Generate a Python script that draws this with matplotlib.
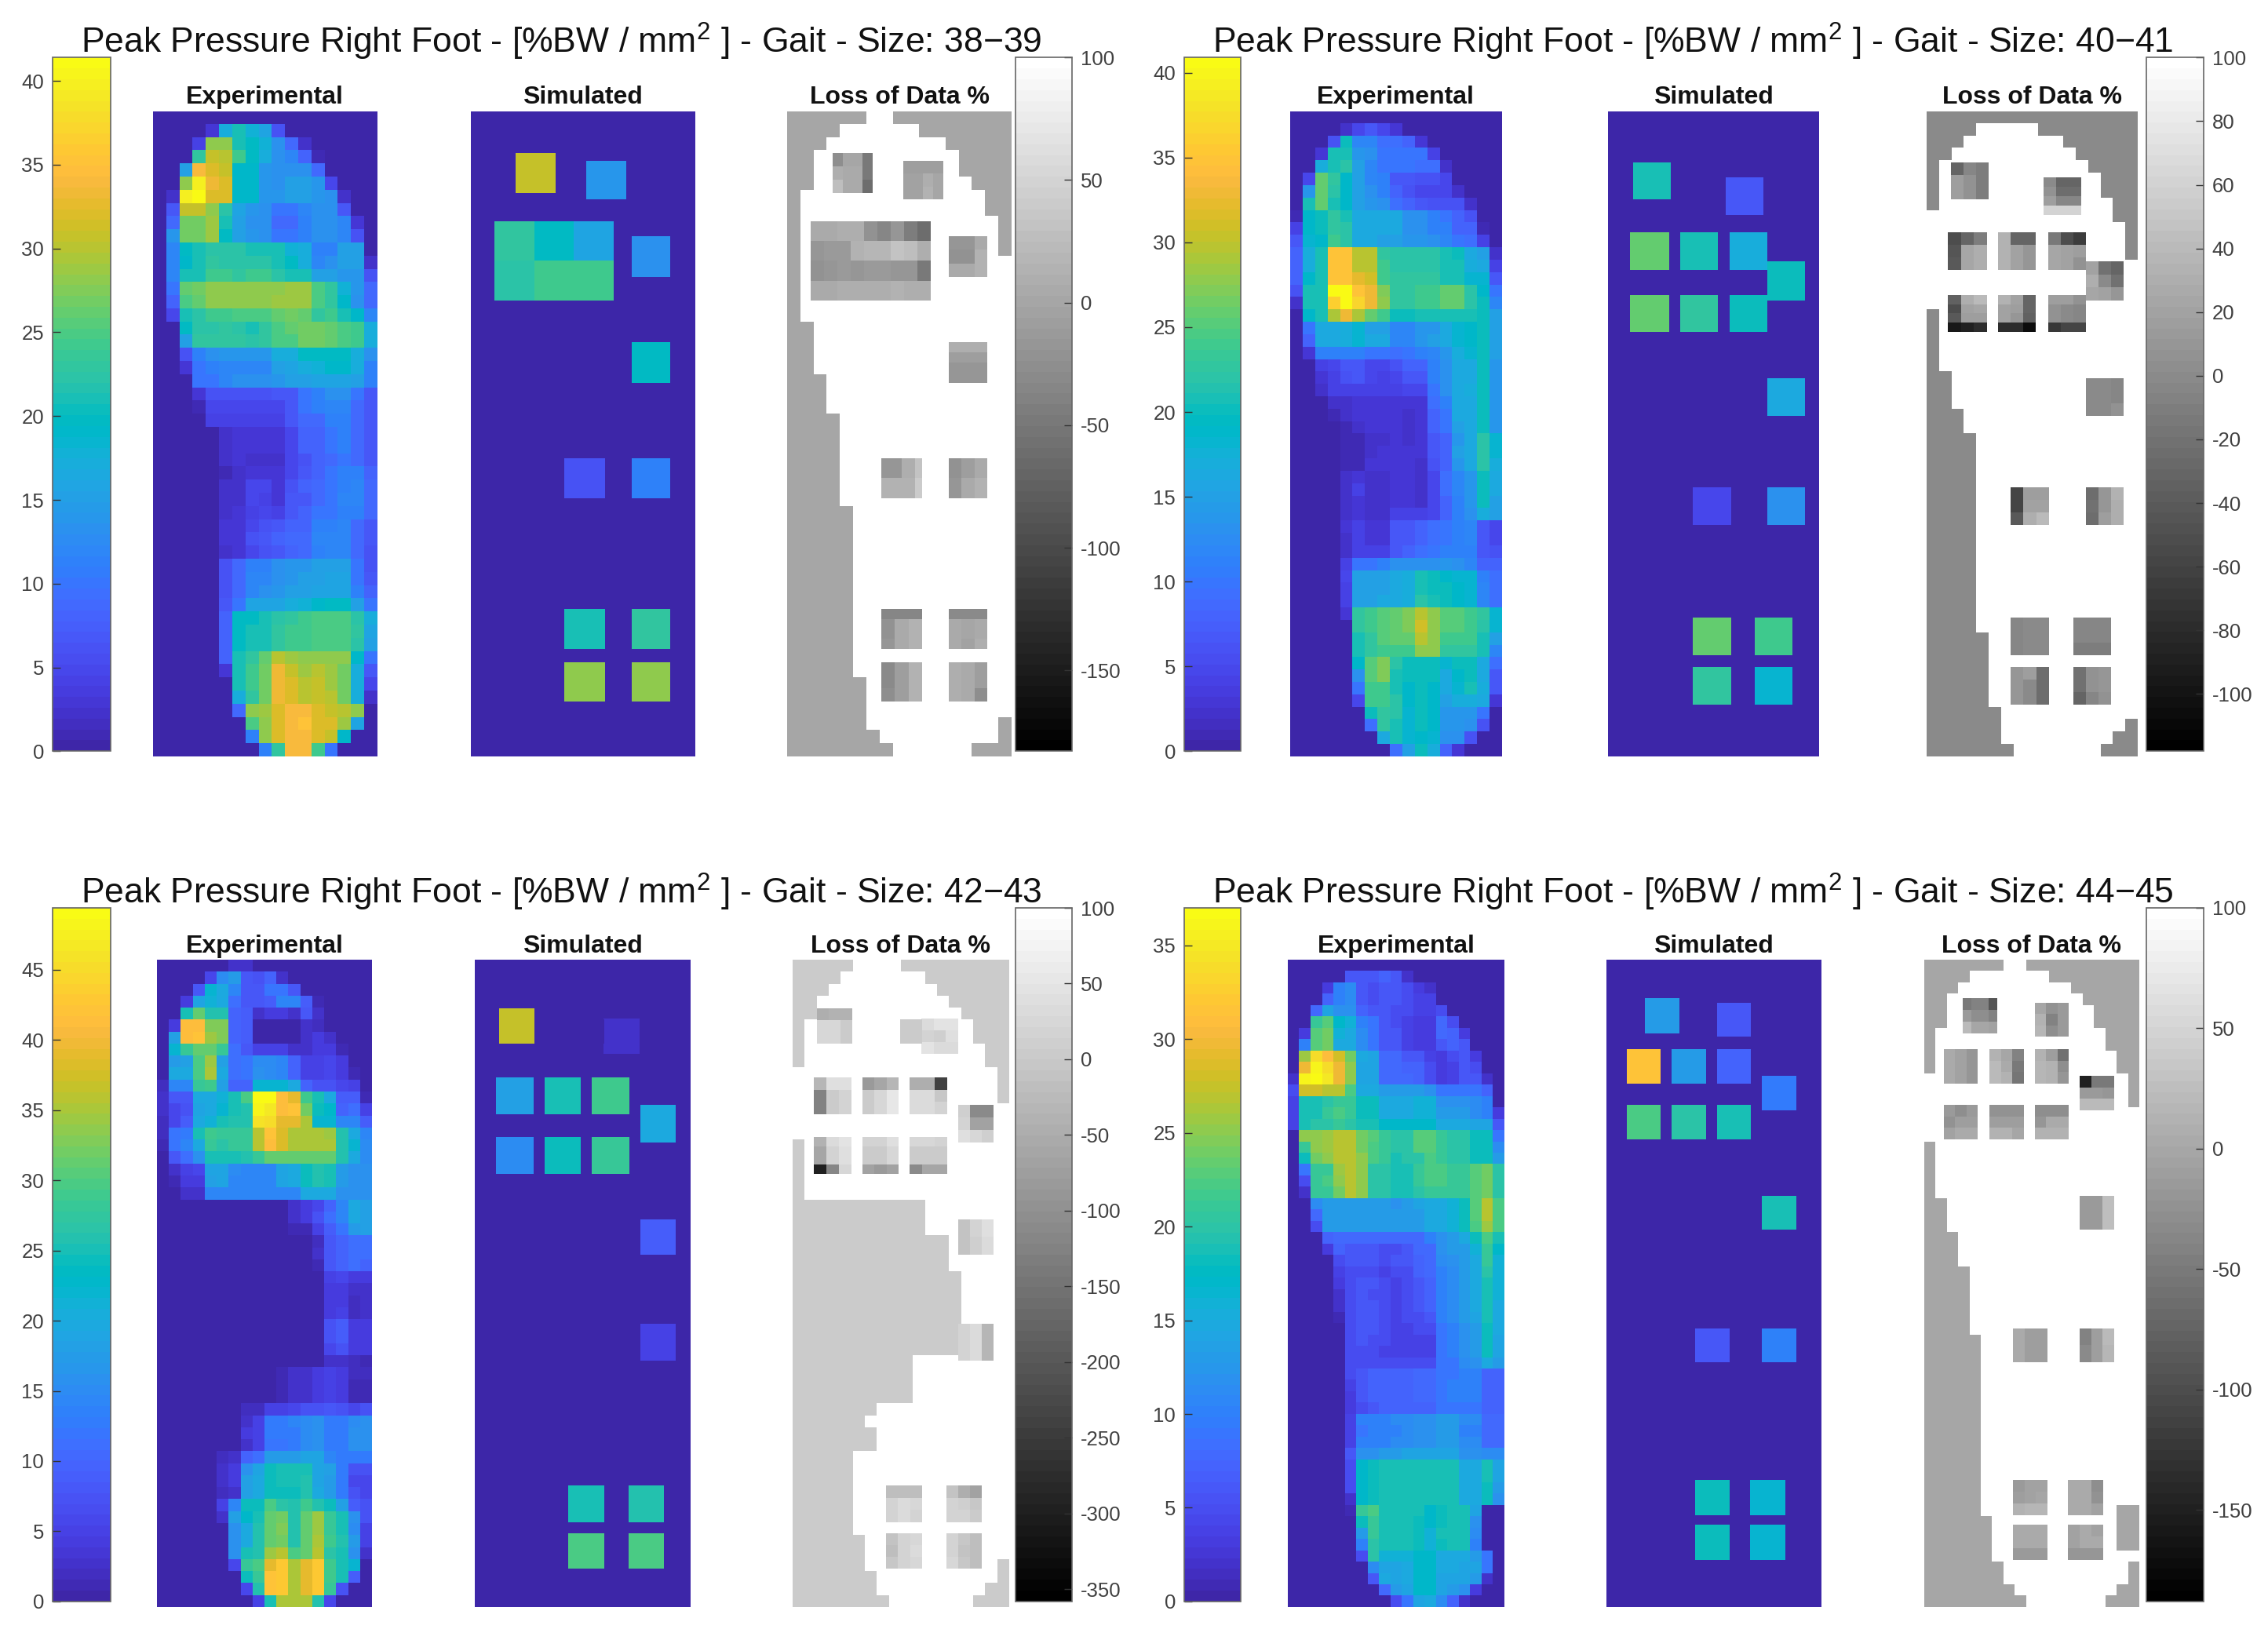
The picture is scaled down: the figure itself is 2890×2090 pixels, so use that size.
import matplotlib
matplotlib.use("Agg")
import matplotlib.pyplot as plt
import numpy as np
from matplotlib.cm import ScalarMappable
from matplotlib.colors import ListedColormap, Normalize

plt.rcParams['font.family'] = ['Liberation Sans', 'DejaVu Sans']
plt.rcParams['mathtext.fontset'] = 'custom'
plt.rcParams['mathtext.rm'] = 'Liberation Sans'
plt.rcParams['axes.unicode_minus'] = False

W, H = 2890, 2090

# MATLAB parula, 64 levels
parula = ListedColormap([
    [0.2422, 0.1504, 0.6603], [0.2504, 0.1650, 0.7076], [0.2578, 0.1818, 0.7511], [0.2647, 0.1978, 0.7952],
    [0.2706, 0.2147, 0.8364], [0.2751, 0.2342, 0.8710], [0.2783, 0.2559, 0.8991], [0.2803, 0.2782, 0.9221],
    [0.2813, 0.3006, 0.9414], [0.2810, 0.3228, 0.9579], [0.2795, 0.3447, 0.9717], [0.2760, 0.3667, 0.9829],
    [0.2699, 0.3892, 0.9906], [0.2602, 0.4123, 0.9952], [0.2440, 0.4358, 0.9988], [0.2206, 0.4603, 0.9973],
    [0.1963, 0.4847, 0.9892], [0.1834, 0.5074, 0.9798], [0.1786, 0.5289, 0.9682], [0.1764, 0.5499, 0.9520],
    [0.1687, 0.5703, 0.9359], [0.1540, 0.5902, 0.9218], [0.1460, 0.6091, 0.9079], [0.1380, 0.6276, 0.8973],
    [0.1248, 0.6459, 0.8883], [0.1113, 0.6635, 0.8763], [0.0952, 0.6798, 0.8598], [0.0689, 0.6948, 0.8394],
    [0.0297, 0.7082, 0.8163], [0.0036, 0.7203, 0.7917], [0.0067, 0.7312, 0.7660], [0.0433, 0.7411, 0.7394],
    [0.0964, 0.7500, 0.7120], [0.1408, 0.7584, 0.6842], [0.1717, 0.7670, 0.6554], [0.1938, 0.7758, 0.6251],
    [0.2161, 0.7843, 0.5923], [0.2470, 0.7918, 0.5567], [0.2906, 0.7973, 0.5188], [0.3406, 0.8008, 0.4789],
    [0.3909, 0.8029, 0.4354], [0.4456, 0.8024, 0.3909], [0.5044, 0.7993, 0.3480], [0.5616, 0.7942, 0.3045],
    [0.6174, 0.7876, 0.2612], [0.6720, 0.7793, 0.2227], [0.7242, 0.7698, 0.1910], [0.7738, 0.7598, 0.1646],
    [0.8203, 0.7498, 0.1535], [0.8634, 0.7406, 0.1596], [0.9035, 0.7330, 0.1774], [0.9393, 0.7288, 0.2100],
    [0.9728, 0.7298, 0.2394], [0.9956, 0.7434, 0.2371], [0.9970, 0.7659, 0.2199], [0.9952, 0.7861, 0.1998],
    [0.9892, 0.8137, 0.1877], [0.9786, 0.8386, 0.1766], [0.9676, 0.8639, 0.1643], [0.9610, 0.8890, 0.1537],
    [0.9597, 0.9135, 0.1423], [0.9628, 0.9373, 0.1265], [0.9691, 0.9606, 0.1064], [0.9769, 0.9839, 0.0805]])
grays = ListedColormap(plt.get_cmap('gray')(np.linspace(0, 1, 64)))
grays.set_bad('white')

sizes = ['38\u221239', '40\u221241', '42\u221243', '44\u221245']
n_cols = [17, 17, 18, 19]

# Experimental peak pressure, one row per sensor line: (first non zero column, values)
exp_38 = [
    (0, []), (4, [3, 17, 21, 18, 16, 6]), (3, [4, 28, 28, 21, 20, 18, 13, 9, 2]),
    (3, [23, 31, 30, 24, 20, 17, 13, 12, 8, 1]), (2, [15, 34, 32, 31, 19, 19, 14, 13, 13, 13, 9]),
    (2, [28, 40, 33, 32, 19, 19, 14, 13, 15, 15, 14, 5]), (1, [2, 40, 41, 32, 32, 19, 19, 14, 14, 15, 15, 14, 13, 2]),
    (1, [7, 31, 31, 28, 22, 16, 14, 13, 10, 10, 12, 13, 13, 7]), (1, [9, 27, 27, 29, 21, 15, 13, 13, 9, 9, 11, 13, 13, 12, 3]),
    (1, [14, 27, 27, 29, 20, 15, 14, 13, 10, 10, 11, 13, 13, 12, 6]),
    (1, [12, 20, 21, 22, 22, 22, 21, 21, 21, 18, 17, 11, 11, 15, 15]),
    (1, [12, 19, 21, 23, 22, 22, 22, 22, 21, 20, 17, 12, 13, 15, 15, 2]),
    (1, [12, 21, 21, 24, 24, 23, 24, 24, 22, 21, 21, 15, 15, 14, 14, 6]),
    (1, [10, 26, 27, 28, 28, 28, 28, 28, 28, 29, 29, 25, 23, 18, 14, 9]),
    (1, [8, 25, 26, 28, 28, 28, 28, 28, 29, 29, 29, 25, 23, 19, 13, 9]),
    (1, [5, 21, 22, 24, 24, 25, 25, 25, 26, 27, 26, 23, 24, 21, 19, 12]),
    (2, [20, 22, 22, 23, 22, 21, 23, 25, 26, 27, 27, 26, 25, 24, 17]),
    (2, [15, 23, 23, 23, 23, 22, 23, 25, 25, 27, 27, 26, 25, 24, 17]),
    (2, [6, 11, 13, 14, 14, 14, 14, 17, 17, 20, 20, 20, 20, 17, 13]),
    (2, [3, 10, 11, 12, 12, 12, 12, 15, 16, 17, 18, 19, 19, 17, 11]),
    (3, [10, 10, 12, 13, 13, 13, 14, 15, 15, 16, 16, 16, 15, 11]),
    (3, [3, 6, 6, 6, 6, 6, 7, 7, 10, 11, 13, 13, 10, 7]),
    (3, [1, 5, 5, 5, 5, 5, 5, 7, 10, 11, 12, 12, 9, 7]),
    (4, [4, 4, 4, 4, 4, 4, 7, 9, 9, 11, 11, 9, 7]),
    (5, [2, 3, 3, 3, 3, 5, 8, 8, 10, 11, 9, 7]),
    (5, [2, 3, 3, 3, 3, 5, 8, 8, 10, 11, 9, 7]),
    (5, [2, 3, 2, 2, 2, 5, 6, 8, 9, 10, 9, 7]),
    (5, [1, 2, 3, 3, 3, 5, 7, 8, 10, 11, 11, 8]),
    (5, [2, 2, 5, 5, 3, 6, 8, 9, 10, 11, 12, 9]),
    (5, [2, 2, 5, 4, 3, 7, 7, 9, 10, 12, 12, 9]),
    (5, [2, 3, 4, 5, 4, 7, 8, 10, 10, 11, 11, 9]),
    (5, [3, 3, 5, 6, 7, 8, 8, 11, 11, 12, 9, 7]),
    (5, [3, 3, 6, 7, 8, 9, 9, 12, 12, 12, 9, 7]),
    (5, [2, 3, 5, 6, 7, 8, 9, 11, 12, 12, 9, 6]),
    (5, [6, 9, 11, 11, 13, 14, 14, 15, 15, 15, 10, 6]),
    (5, [6, 9, 12, 12, 13, 14, 15, 15, 16, 16, 10, 7]),
    (5, [6, 9, 12, 13, 14, 15, 15, 16, 16, 16, 11, 8]),
    (5, [7, 10, 16, 16, 16, 17, 18, 19, 20, 20, 15, 10]),
    (5, [8, 20, 20, 21, 22, 23, 24, 25, 25, 25, 22, 17]),
    (5, [8, 20, 21, 21, 23, 24, 24, 25, 25, 25, 23, 16]),
    (5, [8, 20, 21, 21, 23, 24, 24, 25, 25, 25, 22, 15]),
    (5, [8, 21, 23, 26, 30, 29, 28, 28, 28, 28, 19, 10]),
    (5, [3, 21, 24, 27, 33, 31, 29, 30, 29, 27, 17, 7]),
    (6, [21, 24, 27, 33, 32, 30, 31, 29, 27, 17, 5]),
    (6, [17, 23, 27, 33, 32, 30, 31, 30, 27, 17, 2]),
    (6, [9, 28, 29, 32, 34, 34, 32, 31, 30, 28]),
    (7, [25, 28, 32, 34, 35, 32, 32, 29, 16]),
    (7, [11, 28, 32, 34, 34, 32, 31, 19]),
    (8, [11, 23, 34, 34, 24, 10])]

exp_40 = [
    (0, []), (4, [2, 5, 7, 5, 3]), (3, [6, 20, 12, 12, 9, 9, 8, 3]), (2, [3, 21, 21, 14, 13, 10, 10, 10, 10, 4]),
    (2, [17, 21, 22, 15, 12, 10, 10, 10, 9, 9, 2]), (1, [5, 26, 23, 19, 15, 12, 11, 7, 7, 6, 6, 5]),
    (1, [14, 26, 22, 19, 15, 13, 11, 8, 6, 5, 5, 5, 2]), (1, [21, 26, 21, 19, 15, 14, 13, 9, 8, 7, 6, 6, 6, 2]),
    (0, [1, 19, 20, 23, 21, 16, 16, 16, 16, 13, 13, 11, 10, 8, 6]),
    (0, [4, 19, 20, 23, 22, 16, 16, 16, 16, 13, 13, 11, 11, 8, 8, 1]),
    (0, [7, 18, 19, 24, 22, 16, 16, 15, 15, 14, 14, 13, 12, 10, 9, 4]),
    (0, [8, 17, 21, 35, 35, 30, 30, 23, 22, 22, 22, 22, 21, 20, 16, 15, 2]),
    (0, [8, 17, 21, 35, 35, 30, 30, 24, 22, 22, 22, 22, 21, 21, 17, 16, 4]),
    (0, [8, 19, 21, 35, 35, 32, 31, 24, 23, 23, 23, 23, 21, 21, 18, 18, 7]),
    (0, [6, 21, 21, 41, 41, 35, 33, 27, 23, 23, 24, 24, 26, 26, 22, 19, 10]),
    (0, [2, 21, 21, 36, 41, 37, 33, 28, 23, 23, 24, 24, 26, 26, 22, 20, 12]),
    (1, [19, 21, 29, 33, 29, 26, 24, 20, 20, 21, 21, 21, 21, 21, 20, 15]),
    (1, [10, 16, 16, 17, 18, 15, 15, 12, 12, 14, 14, 16, 18, 19, 20, 15]),
    (1, [8, 16, 16, 17, 18, 16, 16, 12, 12, 14, 15, 16, 18, 19, 20, 15]),
    (1, [3, 11, 11, 11, 11, 10, 10, 9, 10, 11, 12, 14, 17, 18, 20, 15]),
    (2, [4, 5, 7, 7, 5, 5, 6, 8, 8, 11, 13, 16, 16, 20, 14]),
    (2, [3, 4, 6, 7, 5, 4, 5, 7, 7, 11, 13, 16, 16, 20, 14]),
    (2, [2, 4, 4, 4, 4, 4, 4, 5, 5, 10, 13, 16, 17, 20, 14]),
    (3, [2, 2, 3, 3, 3, 3, 3, 3, 9, 11, 16, 16, 20, 14]),
    (3, [1, 2, 3, 3, 3, 3, 2, 3, 8, 10, 16, 16, 20, 14]),
    (4, [1, 2, 3, 3, 3, 2, 3, 8, 10, 15, 16, 20, 14]),
    (4, [1, 1, 2, 2, 3, 2, 3, 7, 8, 14, 16, 22, 18]),
    (4, [1, 1, 2, 3, 3, 3, 3, 7, 8, 15, 16, 22, 18]),
    (4, [1, 1, 3, 3, 3, 3, 2, 6, 8, 14, 16, 22, 17]),
    (4, [2, 3, 2, 2, 3, 3, 2, 5, 9, 12, 14, 20, 16]),
    (4, [2, 4, 2, 2, 3, 3, 2, 5, 9, 12, 14, 20, 16]),
    (4, [2, 3, 2, 2, 3, 3, 2, 5, 8, 11, 14, 20, 15]),
    (4, [2, 3, 2, 2, 4, 4, 4, 5, 8, 11, 13, 17, 15]),
    (4, [3, 4, 3, 3, 7, 7, 8, 9, 10, 11, 12, 7, 5]),
    (4, [2, 4, 3, 3, 7, 7, 8, 9, 10, 11, 12, 7, 5]),
    (4, [2, 4, 4, 4, 7, 8, 9, 10, 11, 11, 11, 7, 6]),
    (4, [4, 10, 10, 11, 13, 13, 13, 13, 14, 13, 12, 8, 8]),
    (4, [5, 15, 15, 15, 16, 17, 21, 20, 19, 18, 18, 11, 9]),
    (4, [4, 15, 15, 15, 16, 17, 21, 20, 20, 19, 18, 12, 9]),
    (4, [4, 15, 15, 16, 16, 17, 22, 21, 20, 19, 18, 12, 9]),
    (4, [3, 23, 24, 25, 26, 27, 30, 28, 25, 25, 24, 23, 18]),
    (5, [23, 24, 25, 26, 27, 31, 28, 25, 25, 24, 22, 18]),
    (5, [21, 23, 25, 26, 26, 30, 28, 24, 24, 24, 21, 15]),
    (5, [21, 23, 24, 24, 24, 28, 28, 23, 23, 23, 21, 12]),
    (5, [19, 25, 27, 22, 20, 20, 20, 18, 20, 20, 16, 9]),
    (5, [13, 25, 27, 21, 20, 20, 20, 16, 19, 20, 16, 7]),
    (5, [10, 24, 24, 21, 19, 20, 19, 16, 18, 21, 17, 7]),
    (5, [5, 24, 24, 22, 19, 20, 19, 15, 17, 17, 16, 3]),
    (6, [20, 23, 22, 18, 20, 19, 14, 14, 14, 10]),
    (6, [9, 23, 21, 18, 20, 19, 14, 14, 13, 6]),
    (7, [16, 21, 18, 19, 18, 13, 13, 6]),
    (8, [9, 15, 20, 17, 8, 3])]

exp_42 = [
    (6, [3, 3]), (4, [6, 15, 17, 8, 7, 10, 3]), (3, [8, 22, 20, 14, 8, 8, 12, 12, 8]),
    (2, [4, 19, 21, 20, 11, 8, 8, 9, 14, 14, 9, 1]), (2, [25, 31, 26, 26, 10, 9, 3, 4, 4, 3, 8, 3]),
    (1, [4, 41, 41, 33, 33, 10, 9, 0, 0, 0, 0, 3, 2]), (1, [18, 41, 42, 34, 33, 10, 9, 0, 0, 0, 0, 3, 4, 3]),
    (1, [22, 28, 31, 31, 28, 11, 8, 5, 5, 5, 3, 3, 4, 4, 1]),
    (1, [17, 18, 30, 34, 18, 11, 12, 15, 15, 14, 10, 5, 5, 6, 4]),
    (1, [20, 20, 30, 35, 20, 11, 12, 16, 15, 14, 10, 5, 5, 6, 4, 1]),
    (0, [2, 14, 14, 28, 29, 18, 10, 10, 22, 22, 22, 20, 10, 7, 7, 6, 5]),
    (0, [3, 8, 8, 20, 20, 21, 25, 30, 49, 49, 41, 39, 29, 25, 20, 9, 9, 1]),
    (0, [3, 6, 7, 19, 20, 22, 25, 26, 48, 47, 41, 42, 32, 24, 23, 10, 11, 5]),
    (0, [2, 6, 9, 20, 21, 25, 26, 26, 46, 45, 39, 39, 35, 22, 22, 14, 14, 9]),
    (0, [2, 12, 13, 25, 29, 28, 28, 28, 36, 42, 38, 35, 35, 35, 34, 26, 20, 14]),
    (0, [1, 12, 14, 20, 28, 27, 28, 28, 36, 41, 38, 35, 35, 35, 35, 26, 22, 15]),
    (1, [8, 11, 16, 25, 25, 25, 26, 28, 31, 31, 31, 31, 31, 31, 26, 20, 15]),
    (1, [3, 5, 6, 19, 19, 15, 14, 14, 14, 19, 20, 24, 26, 25, 17, 16, 16]),
    (1, [1, 4, 4, 18, 19, 14, 14, 14, 14, 19, 20, 24, 26, 25, 17, 16, 16]),
    (2, [3, 3, 14, 14, 14, 14, 14, 14, 14, 14, 20, 20, 20, 16, 16, 16]),
    (11, [3, 4, 6, 10, 14, 20, 18]), (11, [3, 4, 7, 11, 14, 20, 18]), (11, [1, 1, 5, 9, 12, 17, 18]),
    (13, [2, 8, 10, 11, 11]), (13, [3, 8, 10, 11, 11]), (13, [1, 8, 10, 11, 10]),
    (14, [5, 6, 4, 4]), (14, [4, 4, 3, 3]), (14, [4, 4, 2, 3]), (14, [4, 5, 2, 3]),
    (14, [7, 9, 4, 4]), (14, [7, 9, 4, 4]), (14, [6, 7, 4, 4]), (14, [3, 3, 2, 1]),
    (10, [1, 3, 3, 4, 5, 4, 2, 2]), (10, [1, 3, 3, 4, 5, 4, 1, 1]), (10, [1, 3, 3, 4, 5, 4, 1, 1]),
    (7, [2, 2, 5, 5, 6, 7, 7, 8, 7, 6, 7]),
    (7, [3, 5, 13, 13, 14, 15, 16, 13, 13, 15, 16]),
    (7, [4, 5, 13, 13, 13, 15, 16, 13, 13, 16, 16]),
    (7, [3, 5, 12, 12, 13, 15, 16, 13, 13, 16, 16]),
    (5, [2, 3, 10, 11, 17, 17, 17, 19, 19, 14, 13, 13, 13]),
    (5, [3, 4, 16, 19, 24, 25, 25, 25, 19, 18, 13, 7, 7]),
    (5, [3, 4, 18, 20, 24, 25, 25, 26, 19, 17, 13, 6, 6]),
    (5, [2, 3, 18, 20, 24, 24, 24, 26, 20, 17, 13, 7, 6]),
    (5, [5, 14, 24, 24, 30, 27, 26, 29, 26, 24, 18, 9, 7]),
    (5, [3, 18, 23, 25, 31, 32, 26, 31, 34, 28, 25, 16, 7]),
    (6, [16, 20, 26, 31, 33, 26, 31, 34, 28, 25, 15, 5]),
    (6, [16, 20, 26, 31, 32, 26, 31, 35, 29, 26, 17, 5]),
    (6, [16, 25, 26, 34, 36, 30, 31, 36, 27, 25, 16, 3]),
    (6, [6, 28, 30, 39, 43, 35, 39, 43, 29, 25, 22]),
    (7, [24, 28, 42, 43, 35, 39, 43, 29, 25, 9]),
    (7, [6, 26, 42, 43, 35, 39, 43, 28, 7]),
    (8, [5, 25, 35, 35, 35, 26, 6])]

exp_44 = [
    (0, []), (5, [6, 6, 6, 7, 6, 2]), (3, [3, 10, 11, 6, 5, 6, 6, 5, 3, 2]), (3, [7, 10, 11, 6, 5, 6, 6, 5, 4, 4]),
    (2, [8, 14, 12, 12, 7, 6, 6, 5, 5, 4, 4, 5]), (2, [21, 23, 17, 16, 10, 9, 6, 5, 4, 3, 3, 8, 5]),
    (1, [3, 23, 24, 16, 15, 11, 9, 6, 6, 4, 3, 3, 8, 7, 3]), (1, [10, 23, 24, 15, 15, 11, 9, 6, 6, 4, 3, 3, 6, 7, 6]),
    (1, [26, 34, 31, 28, 24, 15, 14, 8, 8, 6, 6, 4, 3, 5, 6, 3]),
    (1, [30, 36, 34, 30, 25, 14, 14, 8, 8, 7, 7, 5, 3, 4, 6, 5]),
    (0, [2, 36, 37, 35, 30, 25, 14, 14, 8, 8, 8, 7, 5, 3, 4, 6, 6, 2]),
    (0, [5, 28, 28, 27, 27, 22, 15, 15, 13, 13, 13, 13, 12, 9, 9, 9, 9, 7]),
    (0, [4, 19, 19, 20, 21, 21, 18, 18, 15, 15, 15, 16, 16, 12, 12, 12, 11, 10]),
    (0, [4, 19, 19, 21, 22, 21, 18, 18, 15, 15, 15, 16, 16, 13, 13, 13, 11, 10, 3]),
    (0, [4, 19, 20, 20, 21, 20, 19, 19, 17, 17, 17, 17, 17, 15, 15, 15, 14, 14, 6]),
    (1, [25, 25, 26, 27, 27, 24, 23, 21, 20, 20, 23, 23, 21, 20, 20, 18, 18, 9]),
    (1, [21, 25, 26, 27, 27, 24, 22, 21, 20, 20, 23, 23, 21, 20, 20, 18, 18, 11]),
    (1, [18, 24, 25, 27, 27, 25, 22, 21, 19, 20, 20, 22, 21, 20, 20, 18, 18, 13]),
    (1, [9, 21, 21, 26, 27, 25, 20, 20, 19, 19, 21, 22, 22, 21, 21, 23, 24, 20]),
    (1, [5, 21, 22, 25, 27, 25, 20, 20, 19, 19, 21, 22, 22, 21, 21, 23, 24, 20]),
    (1, [2, 21, 21, 24, 27, 25, 20, 20, 19, 19, 20, 21, 21, 21, 21, 23, 24, 20]),
    (2, [11, 13, 13, 13, 13, 13, 13, 12, 13, 14, 15, 15, 16, 18, 23, 27, 22]),
    (2, [8, 13, 13, 13, 13, 13, 13, 13, 13, 13, 15, 15, 16, 18, 23, 27, 22]),
    (2, [5, 13, 13, 13, 13, 13, 13, 13, 13, 13, 15, 15, 16, 18, 22, 26, 22]),
    (3, [7, 8, 8, 8, 8, 8, 8, 8, 8, 10, 12, 13, 15, 18, 22, 19]),
    (3, [3, 7, 6, 6, 6, 5, 5, 6, 8, 8, 12, 13, 13, 16, 21, 17]),
    (4, [5, 6, 6, 6, 5, 6, 6, 7, 8, 11, 12, 13, 15, 21, 16]),
    (4, [4, 5, 5, 5, 4, 5, 5, 7, 8, 10, 11, 13, 15, 20, 16]),
    (4, [3, 5, 6, 6, 5, 4, 5, 6, 7, 10, 11, 13, 15, 19, 16]),
    (4, [2, 5, 6, 5, 5, 4, 5, 6, 7, 10, 11, 13, 15, 19, 16]),
    (4, [2, 5, 6, 6, 5, 4, 5, 6, 7, 10, 11, 13, 15, 19, 15]),
    (4, [1, 5, 6, 6, 5, 4, 5, 5, 6, 10, 11, 13, 14, 19, 15]),
    (5, [5, 6, 6, 5, 4, 4, 5, 5, 9, 10, 12, 13, 18, 15]),
    (5, [5, 6, 5, 5, 4, 4, 4, 4, 9, 10, 12, 13, 18, 14]),
    (5, [5, 5, 5, 4, 4, 4, 4, 4, 9, 10, 12, 13, 18, 14]),
    (5, [5, 5, 5, 5, 5, 5, 5, 5, 9, 9, 11, 12, 15, 13]),
    (5, [5, 6, 7, 7, 7, 7, 8, 8, 9, 9, 10, 10, 7, 7]),
    (5, [4, 6, 7, 7, 7, 7, 8, 8, 9, 10, 10, 10, 7, 7]),
    (5, [3, 6, 7, 7, 7, 7, 8, 8, 9, 10, 10, 10, 7, 7]),
    (5, [3, 5, 6, 7, 7, 7, 7, 7, 9, 9, 9, 9, 7, 7]),
    (5, [4, 10, 10, 10, 11, 11, 12, 12, 13, 13, 11, 11, 8, 8]),
    (5, [4, 9, 10, 10, 10, 11, 12, 12, 13, 13, 10, 10, 8, 8]),
    (5, [4, 10, 10, 10, 11, 11, 12, 12, 13, 13, 11, 11, 8, 8]),
    (5, [6, 12, 12, 13, 13, 14, 14, 14, 14, 14, 12, 12, 11, 11]),
    (5, [5, 17, 18, 19, 19, 19, 19, 19, 19, 19, 15, 15, 19, 14]),
    (5, [5, 17, 18, 19, 19, 19, 19, 19, 19, 19, 15, 15, 19, 14]),
    (5, [5, 17, 18, 19, 19, 19, 19, 19, 19, 19, 15, 15, 18, 13]),
    (5, [2, 17, 18, 19, 19, 19, 19, 19, 19, 19, 15, 15, 18, 12]),
    (5, [1, 21, 22, 19, 19, 19, 19, 17, 18, 19, 19, 14]),
    (6, [18, 21, 19, 19, 19, 18, 17, 18, 19, 19, 12]),
    (6, [13, 21, 19, 19, 19, 18, 16, 19, 19, 19, 11]),
    (6, [10, 20, 19, 19, 19, 18, 16, 18, 19, 19, 10]),
    (6, [5, 20, 16, 16, 16, 17, 17, 15, 15, 15, 13, 9]),
    (7, [11, 14, 14, 15, 17, 17, 15, 15, 14, 14, 9]),
    (7, [6, 15, 14, 15, 17, 17, 14, 14, 14, 13, 2]),
    (8, [8, 13, 14, 17, 17, 14, 13, 12, 3]),
    (9, [5, 9, 14, 15, 11, 7, 2])]

# How many cells count as outside the foot (value 0 in the loss panel), per row
out_left_38 = [6, 4, 3, 2, 2, 2] + [1] * 10 + [2] * 4 + [3] * 3 + [4] * 7 + [5] * 13 + [6] * 4 + [7, 8]
out_right_38 = [9, 7, 5, 4, 4, 3, 2, 2, 1, 1, 1] + [0] * 35 + [1, 1, 3]
out_left_40 = [17, 4, 3, 2] + [1] * 4 + [0] * 8 + [1] * 5 + [2] * 3 + [3] * 2 + [4] * 16 + [5] * 6 + [6] * 3 + [7]
out_right_40 = [0, 8, 6, 5, 4, 3, 3, 2, 2, 1, 1, 1] + [0] * 37 + [1, 2, 3]
out_left_42 = [5, 4, 3, 2, 2, 1, 1, 1, 1] + [0] * 6 + [1] * 5 + [11] * 3 + [13] * 3 + [14] * 7 + [10] * 4 \
    + [7, 6, 7, 7] + [5] * 7 + [6] * 3 + [7, 7, 8]
out_right_42 = [9, 7, 6, 5, 4, 3, 3, 2, 2, 1, 1, 1] + [0] * 38 + [1, 1, 2, 3]
out_left_44 = [7, 4, 3, 2, 2, 2, 1, 1, 1, 1] + [0] * 6 + [1] * 5 + [2] * 3 + [3] * 3 + [4] * 6 + [5] * 16 \
    + [6] * 4 + [7, 7, 8, 9]
out_right_44 = [10, 8, 6, 5, 4, 4, 3, 3, 2, 2, 1, 1, 1] + [0] * 35 + [2] * 4 + [0, 1, 1, 2, 3]

# Sensor areas in foot grid units: columns, rows, simulated value, loss of data %
cols_38 = [(3.42, 6.4), (8.77, 11.8), (1.78, 10.82), (12.23, 15.14), (12.23, 15.14), (7.12, 10.17), (12.23, 15.14),
           (7.12, 10.17), (12.23, 15.14), (7.12, 10.17), (12.23, 15.14)]
rows_38 = [(3.16, 6.2), (3.8, 6.7), (8.4, 14.37), (9.54, 12.6), (17.6, 20.65), (26.4, 29.4), (26.4, 29.4),
           (37.87, 40.87), (37.87, 40.87), (41.9, 44.83), (41.9, 44.83)]
sim_38 = [31, 14, [[23, 20, 16], [22, 24, 24]], 13, 19.5, 6, 11, 21, 23, 28, 28]
loss_38 = [
    [[-28, 0, 0, -50], [11, 3, 3, -50], [28, 3, 5, -61]],
    [[-8, -8, -8, -10], [-5, -3, 10, 0], [-5, -3, 12, 0]],
    [[5, 5, 8, 11, -22, -37, -19, -44, -61], [-19, -11, -11, 14, 17, 19, 33, 28, 11],
     [-22, -19, -11, -17, -11, -11, -17, -17, -50], [3, 5, 11, 8, 11, 8, 14, 11, 8]],
    [[-17, -17, 5], [-22, -22, 15], [5, 5, 15]],
    [[10, 10, 10], [-10, -10, -10], [-15, -15, -15], [-15, -15, -15]],
    [[-17, -17, -17, 11, 11, 30], [12, 12, 12, 15, 15, 40]],
    [[-20, -8, 5], [-15, 5, 12]],
    [[-35, -35, -35], [-20, 3, 14], [-20, 3, 14], [-15, 3, 14]],
    [[-30, -30, -30], [5, 0, 5], [5, 0, 5], [5, -5, 8]],
    [[-30, -10, 15], [-30, -10, 15], [-25, -10, 15]],
    [[10, 5, -10], [10, 5, -10], [10, 5, -25]]]

cols_40 = [(2.01, 5.0), (9.46, 12.45), (1.73, 4.86), (5.79, 8.78), (9.82, 12.84), (12.84, 15.83), (1.73, 4.86),
           (5.79, 8.78), (9.82, 12.84), (12.84, 15.83), (6.8, 9.86), (12.84, 15.83), (6.8, 9.86), (11.83, 14.86),
           (6.8, 9.86), (11.83, 14.86)]
rows_40 = [(4.15, 7.1), (5.36, 8.39), (9.84, 12.82), (9.84, 12.82), (9.84, 12.82), (12.14, 15.24), (14.84, 17.78),
           (14.84, 17.78), (14.84, 17.78), (21.61, 24.6), (30.4, 33.39), (30.4, 33.39), (40.85, 43.87), (40.85, 43.87),
           (44.84, 47.82), (44.84, 47.82)]
sim_40 = [21, 7, 26, 21, 17, 20, 26, 23, 20, 16, 5, 13, 26, 24, 23, 18]
loss_40 = [
    [[-30, -5, -10], [15, 5, -10], [15, 5, -10]],
    [[0, -30, -30], [5, -25, -25], [15, -5, -5], [60, 60, 60]],
    [[-50, -30, -10], [-45, 25, 30], [-40, 25, 30]],
    [[35, -32, -32], [35, 20, 10], [35, 20, 10]],
    [[-15, -50, -65], [25, 20, 15], [25, 20, 5]],
    [[20, -20, -30], [30, 0, -20], [25, 20, 10]],
    [[-35, 30, 40], [-50, 20, 25], [-40, 15, 15], [-95, -90, -80]],
    [[35, 20, -30], [20, 15, -30], [20, 10, -35], [-80, -80, -105]],
    [[15, 15, 5], [5, 0, -5], [5, 0, -5], [-70, -60, -60]],
    [[0, 0, -3], [0, 0, -3], [0, 0, 5]],
    [[-60, 15, 15], [-60, 20, 20], [-40, 30, 40]],
    [[-25, 10, 35], [-20, 10, 30], [-25, 15, 30]],
    [[-5, 0, 0], [-5, 0, 0]],
    [[-3, -3, -3], [-3, -3, -3], [-10, -10, -10]],
    [[10, 15, -25], [10, 0, -25], [10, 0, -25]],
    [[-20, 5, 10], [-20, 5, 10], [-30, -5, 5]]]

cols_42 = [(2.07, 5.0), (10.79, 13.8), (1.77, 4.89), (5.83, 8.8), (9.77, 12.86), (13.83, 16.77), (1.77, 4.89),
           (5.83, 8.8), (9.77, 12.86), (13.83, 16.77), (13.83, 16.77), (7.82, 10.79), (12.86, 15.79), (7.82, 10.79),
           (12.86, 15.79), (9.0, 10.79)]
rows_42 = [(4.05, 6.98), (4.89, 7.81), (9.82, 12.87), (9.82, 12.87), (9.82, 12.87), (12.16, 15.25), (14.83, 17.88),
           (14.83, 17.88), (14.83, 17.88), (21.68, 24.6), (30.41, 33.46), (43.86, 46.91), (43.86, 46.91),
           (47.87, 50.79), (47.87, 50.79), (5.0, 7.0)]
sim_42 = [36.5, 3, 18, 25, 29, 20, 15, 24, 28, 9, 5, 25, 26, 30, 30, 0]
loss_42 = [
    [[-45, -40, -40], [25, 25, 5], [25, 25, 5]],
    [[30, 45, 45], [15, 10, 40], [45, 35, 30]],
    [[-35, 40, 40], [-125, 5, 15], [-125, 5, 15]],
    [[-85, -60, -30], [5, 25, 50], [5, 25, 50]],
    [[-50, -50, -240], [35, 35, -5], [35, 35, 15]],
    [[10, -110, -110], [15, -70, -70], [40, 25, 10]],
    [[-40, 30, 45], [-60, 15, 40], [-60, 15, 40], [-300, -120, 25]],
    [[20, 20, 40], [5, 5, 25], [5, 5, 25], [-70, -80, -70]],
    [[25, 25, 15], [5, 5, 5], [5, 5, 5], [-110, -60, -60]],
    [[-10, 20, 40], [-10, 10, 30]],
    [[20, 35, -30], [20, 35, -30]],
    [[-20, -15, -15], [15, 35, 25], [15, 35, 20]],
    [[-10, -50, -70], [15, 10, -5], [20, 15, 5]],
    [[-10, 15, 25], [-15, 15, 30], [-5, 15, 25]],
    [[15, -5, -15], [15, -10, -20], [25, -5, -20]],
    [[0]]]

cols_44 = [(3.39, 6.39), (9.78, 12.73), (1.77, 4.73), (5.75, 8.75), (9.78, 12.73), (13.76, 16.75), (1.77, 4.73),
           (5.75, 8.75), (9.78, 12.73), (13.76, 16.75), (7.84, 10.84), (13.76, 16.75), (7.84, 10.84), (12.73, 15.85),
           (7.84, 10.84), (12.73, 15.85)]
rows_44 = [(3.4, 6.48), (3.84, 6.75), (7.85, 10.89), (7.85, 10.89), (7.85, 10.89), (10.23, 13.27), (12.83, 15.83),
           (12.83, 15.83), (12.83, 15.83), (20.86, 23.77), (32.5, 35.45), (32.5, 35.45), (45.81, 48.9), (45.81, 48.9),
           (49.82, 52.87), (49.82, 52.87)]
sim_44 = [13, 6, 31.5, 13, 7, 9.5, 22, 20, 18.5, 18.5, 6, 10, 18, 16.5, 18, 16.5]
loss_44 = [
    [[-50, -40, -40, -90], [-15, -30, -30, -40], [20, 0, 0, -5]],
    [[0, -25, -15], [10, -40, -15], [15, -30, -15]],
    [[5, -8, -20], [5, -8, -20], [5, -8, -20]],
    [[10, 0, -40], [20, 5, -50], [20, 10, -55]],
    [[10, -10, -60], [15, 10, -30], [15, 10, -20]],
    [[-150, -50, -50], [-15, -15, -20], [20, 20, 20]],
    [[-15, -30, -15], [-25, -10, -10], [-5, 5, 5]],
    [[-25, -25, -25], [-10, -10, -10], [10, 10, 0]],
    [[-30, -30, -30], [-20, 5, 5], [10, 10, 10]],
    [[-15, -15, 25], [-15, -15, 25]],
    [[5, -10, -10], [5, -10, -10]],
    [[-40, -10, 20], [-35, -10, 15]],
    [[-15, -5, -5], [-10, -5, 0], [10, 15, 15]],
    [[5, 5, -30], [5, 5, -25], [5, 5, -5]],
    [[5, 5, 5], [5, 5, 5], [-15, -15, -15]],
    [[-5, 5, -5], [-5, 5, 5], [-20, -20, -20]]]

# colour ranges
vmax_parula = [41.4, 40.9, 49.4, 37.0]
vmin_gray = [-183, -118, -358, -188]
gray_ticks = [np.arange(-150, 101, 50), np.arange(-100, 101, 20), np.arange(-350, 101, 50), np.arange(-150, 101, 50)]

# layout in pixels of the full picture (left, right)
cbar_x = [(67.2, 140.6), (1509.3, 1581.3), (67.2, 140.6), (1509.3, 1581.3)]
exp_x = [(194.6, 479.9), (1643.6, 1912.7), (200.3, 474.2), (1641.4, 1916.5)]
sim_x = [(599.9, 885.2), (2049.4, 2317.8), (604.5, 879.4), (2047.1, 2320.7)]
loss_x = [(1003.3, 1289.2), (2454.6, 2723.6), (1009.5, 1284.6), (2451.8, 2725.3)]
gbar_x = [(1294.2, 1365.7), (2735.0, 2807.6), (1294.2, 1365.7), (2735.0, 2807.6)]
cbar_y = [(73.3, 957.3), (73.3, 957.3), (1157.0, 2040.9), (1157.0, 2040.9)]
image_y = [(141.6, 963.6), (141.6, 963.6), (1223.3, 2047.9), (1223.3, 2047.9)]
title_x = [103, 1545, 103, 1545]
title_y = [68, 68, 1152, 1152]

exp_all = [exp_38, exp_40, exp_42, exp_44]
out_left = [out_left_38, out_left_40, out_left_42, out_left_44]
out_right = [out_right_38, out_right_40, out_right_42, out_right_44]
cols_all = [cols_38, cols_40, cols_42, cols_44]
rows_all = [rows_38, rows_40, rows_42, rows_44]
sim_all = [sim_38, sim_40, sim_42, sim_44]
loss_all = [loss_38, loss_40, loss_42, loss_44]


def add_axes_px(fig, xs, ys):
    return fig.add_axes([xs[0] / W, 1 - ys[1] / H, (xs[1] - xs[0]) / W, (ys[1] - ys[0]) / H])


def to_matrix(rows, ncols):
    mat = np.zeros((len(rows), ncols))
    for i, (start, vals) in enumerate(rows):
        mat[i, start:start + len(vals)] = vals
    return mat


def outside_mask(left, right, ncols):
    # NaN (white) inside the foot, 0 outside
    mask = np.full((len(left), ncols), np.nan)
    for i, (l, r) in enumerate(zip(left, right)):
        mask[i, :l] = 0
        if r > 0:
            mask[i, ncols - r:] = 0
    return mask


def clean(ax, title, nrows, ncols):
    ax.set_xlim(0, ncols)
    ax.set_ylim(nrows, 0)
    ax.set_xticks([])
    ax.set_yticks([])
    for spine in ax.spines.values():
        spine.set_visible(False)
    ax.set_title(title, fontsize=23, fontweight='bold', pad=7, color='#111111')


def style_bar(bar, ticks, side):
    bar.set_ticks(ticks)
    bar.ax.yaxis.set_ticks_position(side)
    bar.ax.tick_params(direction='in', length=7, width=1, color='#333333', labelsize=18.5,
                       labelcolor='#404040', pad=8)
    bar.outline.set_edgecolor('#666666')
    bar.outline.set_linewidth(1.2)


fig = plt.figure(figsize=(W / 100, H / 100), dpi=100, facecolor='white')

for p in range(4):
    ncols = n_cols[p]
    exp = to_matrix(exp_all[p], ncols)
    nrows = exp.shape[0]
    vmax = vmax_parula[p]
    vmin_g = vmin_gray[p]

    ax_exp = add_axes_px(fig, exp_x[p], image_y[p])
    ax_exp.imshow(exp, cmap=parula, vmin=0, vmax=vmax, aspect='auto', interpolation='nearest',
                  extent=(0, ncols, nrows, 0))
    clean(ax_exp, 'Experimental', nrows, ncols)

    ax_sim = add_axes_px(fig, sim_x[p], image_y[p])
    ax_sim.imshow(np.zeros((nrows, ncols)), cmap=parula, vmin=0, vmax=vmax, aspect='auto',
                  interpolation='nearest', extent=(0, ncols, nrows, 0))
    ax_loss = add_axes_px(fig, loss_x[p], image_y[p])
    ax_loss.imshow(outside_mask(out_left[p], out_right[p], ncols), cmap=grays, vmin=vmin_g, vmax=100,
                   aspect='auto', interpolation='nearest', extent=(0, ncols, nrows, 0))

    for c, r, s, l in zip(cols_all[p], rows_all[p], sim_all[p], loss_all[p]):
        area = (c[0], c[1], r[1], r[0])
        ax_sim.imshow(np.atleast_2d(s), cmap=parula, vmin=0, vmax=vmax, aspect='auto',
                      interpolation='nearest', extent=area)
        ax_loss.imshow(np.array(l, dtype=float), cmap=grays, vmin=vmin_g, vmax=100, aspect='auto',
                       interpolation='nearest', extent=area)
    clean(ax_sim, 'Simulated', nrows, ncols)
    clean(ax_loss, 'Loss of Data %', nrows, ncols)

    cax = add_axes_px(fig, cbar_x[p], cbar_y[p])
    bar = fig.colorbar(ScalarMappable(Normalize(0, vmax), parula), cax=cax)
    style_bar(bar, np.arange(0, vmax, 5), 'left')

    gax = add_axes_px(fig, gbar_x[p], cbar_y[p])
    gbar = fig.colorbar(ScalarMappable(Normalize(vmin_g, 100), grays), cax=gax)
    style_bar(gbar, gray_ticks[p], 'right')

    fig.text(title_x[p] / W, 1 - title_y[p] / H,
             'Peak Pressure Right Foot - [%BW / mm$^{\\mathrm{2}}$ ] - Gait - Size: ' + sizes[p],
             fontsize=32, color='#111111', ha='left', va='baseline')

fig.savefig('out.png', dpi=100, facecolor='white')
